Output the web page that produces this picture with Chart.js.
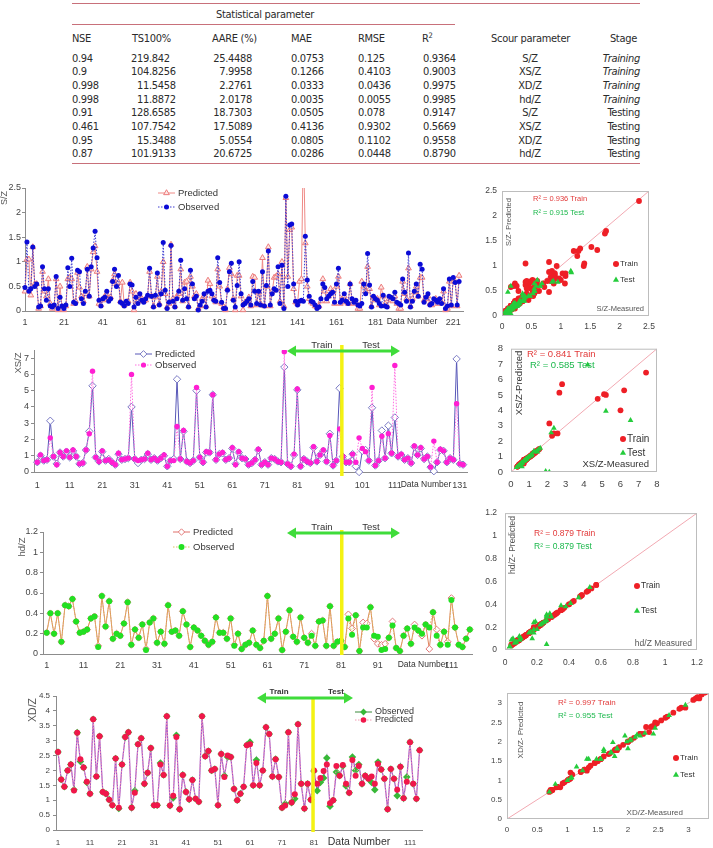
<!DOCTYPE html>
<html>
<head>
<meta charset="utf-8">
<title>Scour parameter predictions</title>
<script src="https://cdn.jsdelivr.net/npm/chart.js@4.4.1/dist/chart.umd.min.js"></script>
<style>
  body { margin: 0; background: #fff; }
  #page { position: relative; width: 713px; height: 848px; overflow: hidden; }
  #page canvas { position: absolute; }
  .cell { position: absolute; font-family: "Liberation Sans Narrow", "DejaVu Sans Condensed", sans-serif; font-size: 11px; letter-spacing: -0.3px; line-height: 13px; color: #2b2b2b; white-space: nowrap; }
  .cell sup { font-size: 7.5px; vertical-align: top; line-height: 8px; }
  .rule { position: absolute; height: 1px; background: #c8707a; }
</style>
</head>
<body>
<div id="page">
  <div id="table"></div>
  <canvas id="szLine" width="480" height="170" style="left:0;top:160px"></canvas>
  <canvas id="szScatter" width="233" height="160" style="left:480px;top:175px"></canvas>
  <canvas id="xsLine" width="480" height="160" style="left:0;top:335px"></canvas>
  <canvas id="xsScatter" width="233" height="160" style="left:480px;top:335px"></canvas>
  <canvas id="hdLine" width="480" height="172" style="left:0;top:500px"></canvas>
  <canvas id="hdScatter" width="233" height="172" style="left:480px;top:500px"></canvas>
  <canvas id="xdLine" width="480" height="176" style="left:0;top:672px"></canvas>
  <canvas id="xdScatter" width="233" height="176" style="left:480px;top:672px"></canvas>
</div>
<script>
// ---- table values ----
const tableNSE = ['0.94', '0.9', '0.998', '0.998', '0.91', '0.461', '0.95', '0.87'];
const tableTS = ['219.842', '104.8256', '11.5458', '11.8872', '128.6585', '107.7542', '15.3488', '101.9133'];
const tableAARE = ['25.4488', '7.9958', '2.2761', '2.0178', '18.7303', '17.5089', '5.0554', '20.6725'];
const tableMAE = ['0.0753', '0.1266', '0.0333', '0.0035', '0.0505', '0.4136', '0.0805', '0.0286'];
const tableRMSE = ['0.125', '0.4103', '0.0436', '0.0055', '0.078', '0.9302', '0.1102', '0.0448'];
const tableR2 = ['0.9364', '0.9003', '0.9975', '0.9985', '0.9147', '0.5669', '0.9558', '0.8790'];
const tableScour = ['S/Z', 'XS/Z', 'XD/Z', 'hd/Z', 'S/Z', 'XS/Z', 'XD/Z', 'hd/Z'];
const tableStage = ['Training', 'Training', 'Training', 'Training', 'Testing', 'Testing', 'Testing', 'Testing'];

// ---- S/Z series (data number 1..224) ----
const szObserved = [
  0.48, 1.40, 0.40, 0.45, 1.30, 0.50, 0.55, 0.08, 0.10, 0.90,
  0.45, 0.22, 0.45, 0.10, 0.08, 0.12, 0.70, 0.05, 0.28, 0.10,
  0.05, 0.12, 0.88, 0.50, 1.07, 0.18, 0.15, 0.83, 0.80, 0.25,
  0.15, 0.40, 0.85, 0.30, 0.90, 1.28, 1.62, 1.08, 0.22, 0.10,
  0.25, 0.28, 0.40, 0.20, 0.25, 0.60, 0.85, 0.50, 0.72, 0.18,
  0.15, 0.10, 0.20, 0.15, 0.55, 0.53, 0.08, 0.28, 0.15, 0.35,
  0.22, 0.18, 0.25, 0.32, 0.87, 0.30, 0.08, 0.32, 0.77, 0.12,
  0.35, 1.39, 0.42, 0.05, 0.18, 1.33, 0.20, 0.08, 0.25, 0.40,
  1.03, 0.22, 0.45, 0.25, 0.08, 0.83, 0.55, 0.25, 0.30, 0.02,
  0.12, 0.20, 0.35, 0.08, 0.40, 0.42, 0.35, 0.22, 0.20, 1.08,
  0.58, 0.18, 0.05, 0.05, 0.42, 0.80, 0.97, 0.22, 0.08, 0.52,
  1.00, 0.35, 0.12, 0.15, 0.20, 0.25, 0.12, 0.60, 0.40, 0.15,
  0.40, 0.12, 0.80, 0.10, 0.52, 1.22, 0.12, 0.35, 0.45, 0.42,
  0.90, 0.15, 0.93, 0.05, 2.33, 0.50, 1.75, 1.77, 0.55, 0.20,
  0.12, 0.20, 0.22, 0.20, 1.52, 0.63, 0.30, 0.20, 0.18, 0.12,
  0.05, 0.08, 0.25, 0.55, 0.48, 0.25, 0.30, 0.35, 0.38, 0.18,
  0.55, 0.87, 0.18, 0.22, 0.35, 0.20, 0.15, 0.55, 0.25, 0.18,
  0.22, 0.12, 0.10, 0.15, 0.55, 0.35, 1.17, 0.53, 0.08, 0.30,
  0.25, 0.22, 0.15, 0.10, 0.32, 0.10, 0.08, 0.30, 0.28, 0.25,
  0.38, 0.18, 0.15, 0.12, 0.65, 0.38, 0.20, 1.18, 0.08, 0.20,
  0.40, 0.55, 0.30, 0.95, 0.85, 0.18, 0.28, 0.35, 0.12, 0.15,
  0.25, 0.22, 0.18, 0.25, 0.15, 0.45, 0.05, 0.10, 0.65, 0.12,
  0.68, 0.58, 0.12, 0.60
];
const szPredicted = [
  0.40, 1.05, 1.05, 0.32, 1.30, 0.55, 0.55, 0.05, 0.10, 0.80,
  0.40, 0.30, 0.65, 0.15, 0.05, 0.10, 0.65, 0.02, 0.50, 0.08,
  0.02, 0.10, 0.65, 0.68, 0.65, 0.15, 0.20, 0.78, 0.48, 0.30,
  0.20, 0.35, 0.90, 0.30, 0.85, 1.20, 1.32, 0.80, 0.15, 0.12,
  0.22, 0.30, 0.35, 0.25, 0.28, 0.62, 0.75, 0.55, 0.58, 0.20,
  0.58, 0.12, 0.18, 0.20, 0.58, 0.40, 0.02, 0.35, 0.20, 0.30,
  0.25, 0.20, 0.22, 0.30, 0.80, 0.30, 0.10, 0.28, 0.70, 0.15,
  0.40, 1.00, 0.35, 0.08, 0.15, 1.35, 0.25, 0.10, 0.30, 0.35,
  0.85, 0.20, 0.58, 0.60, 0.10, 0.70, 0.50, 0.30, 0.35, 0.05,
  0.10, 0.25, 0.30, 0.10, 0.62, 0.55, 0.30, 0.25, 0.18, 0.85,
  0.50, 0.15, 0.08, 0.02, 0.45, 0.88, 0.75, 0.25, 0.02, 0.72,
  0.72, 0.30, 0.02, 0.18, 0.18, 0.28, 0.10, 0.70, 0.68, 0.12,
  0.38, 0.15, 1.08, 0.10, 0.50, 1.30, 0.10, 0.40, 0.68, 0.70,
  0.75, 0.20, 1.00, 0.10, 2.30, 0.70, 1.65, 1.70, 0.45, 0.18,
  0.15, 0.60, 0.65, 3.50, 1.38, 0.50, 0.25, 0.18, 0.15, 0.10,
  0.08, 0.10, 0.20, 0.65, 0.40, 0.20, 0.30, 0.45, 0.40, 0.15,
  0.50, 0.70, 0.15, 0.25, 0.30, 0.18, 0.15, 0.55, 0.20, 0.15,
  0.18, 0.05, 0.05, 0.60, 0.50, 0.40, 0.90, 0.45, 0.10, 0.28,
  0.22, 0.25, 0.12, 0.48, 0.30, 0.15, 0.10, 0.25, 0.22, 0.20,
  0.30, 0.15, 0.05, 0.05, 0.60, 0.35, 0.25, 0.87, 0.10, 0.25,
  0.38, 0.50, 0.30, 0.68, 0.68, 0.22, 0.25, 0.30, 0.15, 0.12,
  0.20, 0.25, 0.15, 0.22, 0.18, 0.40, 0.02, 0.05, 0.60, 0.10,
  0.65, 0.60, 0.10, 0.72
];
const szTrainCount = 150;

// ---- XS/Z series (data number 1..132) ----
const xsObserved = [
  0.6, 1.05, 0.7, 0.75, 2.1, 0.95, 0.45, 1.2, 0.95, 1.3,
  0.9, 1.35, 0.95, 0.5, 0.55, 1.35, 2.35, 6.2, 0.9, 0.65,
  1.3, 0.7, 0.75, 0.6, 0.45, 1.15, 0.75, 0.8, 0.85, 6.0,
  0.8, 0.7, 0.75, 0.8, 1.15, 0.75, 0.85, 0.7, 0.85, 1.05,
  0.35, 0.7, 0.7, 2.8, 0.8, 2.55, 0.65, 0.55, 0.7, 5.2,
  0.9, 0.6, 1.25, 1.2, 4.75, 0.75, 1.1, 1.2, 0.75, 0.85,
  1.5, 0.45, 1.25, 0.85, 0.8, 0.45, 0.55, 0.75, 1.4, 0.45,
  0.6, 0.45, 0.85, 0.8, 0.65, 0.6, 7.4, 0.5, 0.35, 1.1,
  5.1, 0.35, 0.8, 0.65, 0.55, 1.55, 0.65, 1.05, 1.35, 0.65,
  2.25, 0.4, 0.7, 2.65, 0.95, 0.6, 0.6, 1.1, 0.6, 2.1,
  1.45, 1.25, 0.7, 5.2, 0.4, 0.7, 2.2, 0.85, 2.35, 1.15,
  6.55, 0.95, 1.1, 0.75, 0.85, 0.55, 1.6, 1.05, 1.5, 0.8,
  0.95, 0.3, 1.9, 0.6, 1.4, 1.3, 0.6, 0.85, 0.75, 4.2,
  0.5, 0.45
];
const xsPredicted = [
  0.6, 1.0, 0.7, 0.75, 3.15, 0.95, 0.5, 1.2, 0.95, 1.25,
  0.9, 1.3, 0.95, 0.5, 0.55, 1.35, 2.5, 5.3, 0.9, 0.65,
  1.25, 0.7, 0.8, 0.6, 0.45, 1.1, 0.75, 0.8, 0.85, 4.0,
  0.8, 0.55, 0.75, 0.8, 1.1, 0.75, 0.85, 0.7, 0.85, 1.0,
  0.35, 0.7, 0.8, 5.7, 0.8, 2.5, 0.65, 0.55, 0.7, 5.0,
  0.9, 0.6, 1.2, 1.2, 4.75, 0.75, 1.1, 1.15, 0.75, 0.85,
  1.45, 0.5, 1.2, 0.85, 0.8, 0.45, 0.55, 0.75, 1.35, 0.45,
  0.6, 0.45, 0.85, 0.8, 0.65, 0.6, 6.45, 0.5, 0.35, 1.05,
  5.05, 0.35, 0.8, 0.65, 0.55, 1.5, 0.65, 1.05, 1.3, 0.65,
  2.35, 0.4, 0.7, 5.15, 0.95, 0.6, 0.6, 1.1, 0.35, 0.0,
  1.3, 1.35, 0.7, 3.95, 0.4, 0.7, 2.55, 0.85, 2.85, 1.15,
  3.35, 0.95, 1.05, 0.75, 0.85, 0.55, 1.55, 1.05, 1.45, 0.8,
  0.95, 0.3, 0.05, 0.6, 1.35, 1.3, 0.6, 0.85, 0.75, 6.95,
  0.5, 0.45
];
const xsTrainCount = 94;

// ---- hd/Z series (data number 1..116) ----
const hdObserved = [
  0.21, 0.40, 0.20, 0.40, 0.12, 0.48, 0.47, 0.54, 0.32, 0.21,
  0.22, 0.24, 0.35, 0.37, 0.07, 0.57, 0.27, 0.52, 0.15, 0.20,
  0.18, 0.30, 0.51, 0.09, 0.24, 0.16, 0.29, 0.04, 0.31, 0.35,
  0.11, 0.22, 0.10, 0.48, 0.22, 0.23, 0.18, 0.42, 0.29, 0.07,
  0.26, 0.23, 0.18, 0.13, 0.09, 0.12, 0.36, 0.21, 0.21, 0.15,
  0.35, 0.08, 0.20, 0.05, 0.09, 0.11, 0.23, 0.09, 0.06, 0.13,
  0.57, 0.15, 0.20, 0.35, 0.04, 0.22, 0.43, 0.17, 0.12, 0.36,
  0.16, 0.11, 0.18, 0.08, 0.32, 0.33, 0.08, 0.47, 0.08, 0.12,
  0.13, 0.07, 0.35, 0.19, 0.38, 0.03, 0.26, 0.26, 0.46, 0.18,
  0.17, 0.04, 0.05, 0.16, 0.28, 0.06, 0.03, 0.18, 0.25, 0.10,
  0.26, 0.23, 0.20, 0.29, 0.26, 0.41, 0.18, 0.09, 0.22, 0.09,
  0.53, 0.26, 0.09, 0.07, 0.15, 0.24
];
const hdPredicted = [
  0.21, 0.40, 0.20, 0.40, 0.12, 0.48, 0.47, 0.54, 0.32, 0.21,
  0.22, 0.24, 0.35, 0.37, 0.08, 0.57, 0.27, 0.52, 0.15, 0.20,
  0.18, 0.30, 0.51, 0.09, 0.24, 0.16, 0.29, 0.05, 0.31, 0.35,
  0.11, 0.22, 0.10, 0.48, 0.22, 0.23, 0.18, 0.42, 0.29, 0.07,
  0.26, 0.23, 0.18, 0.13, 0.09, 0.12, 0.36, 0.21, 0.21, 0.15,
  0.35, 0.09, 0.20, 0.05, 0.09, 0.11, 0.23, 0.09, 0.06, 0.13,
  0.57, 0.15, 0.20, 0.35, 0.04, 0.22, 0.43, 0.17, 0.12, 0.36,
  0.16, 0.11, 0.20, 0.08, 0.32, 0.33, 0.08, 0.47, 0.08, 0.12,
  0.13, 0.07, 0.39, 0.25, 0.38, 0.03, 0.31, 0.30, 0.46, 0.15,
  0.10, 0.09, 0.10, 0.16, 0.32, 0.06, 0.03, 0.18, 0.25, 0.10,
  0.29, 0.23, 0.18, 0.29, 0.05, 0.41, 0.24, 0.09, 0.22, 0.12,
  0.55, 0.26, 0.09, 0.07, 0.15, 0.24
];
const hdTrainCount = 81;

// ---- XD/Z series (data number 1..114) ----
const xdObserved = [
  2.62, 1.70, 1.45, 2.00, 2.20, 1.35, 3.27, 2.30, 2.10, 1.60,
  1.22, 3.72, 1.80, 3.15, 1.28, 1.22, 1.02, 0.83, 2.40, 0.72,
  2.20, 3.12, 3.28, 0.75, 1.32, 2.88, 3.08, 1.55, 1.92, 2.75,
  0.83, 0.83, 2.25, 1.85, 3.82, 0.82, 1.08, 3.18, 0.70, 1.85,
  1.28, 1.03, 1.68, 1.05, 0.95, 3.82, 2.48, 2.65, 2.00, 2.05,
  0.83, 2.55, 1.82, 2.45, 2.45, 1.38, 1.00, 1.22, 1.45, 2.85,
  2.95, 1.50, 2.35, 1.50, 2.00, 3.45, 3.22, 1.80, 2.38, 1.78,
  0.75, 0.88, 3.28, 0.92, 1.05, 3.55, 1.55, 0.72, 1.55, 1.02,
  1.98, 1.32, 1.60, 1.75, 2.42, 0.80, 1.00, 1.95, 1.82, 2.15,
  1.48, 1.25, 2.45, 2.00, 2.20, 1.55, 1.82, 1.72, 1.60, 1.35,
  2.28, 2.03, 1.72, 0.70, 2.05, 1.72, 1.15, 2.12, 1.07, 1.78,
  2.95, 1.55, 1.05, 2.68
];
const xdPredicted = [
  2.62, 1.70, 1.45, 2.00, 2.20, 1.33, 3.27, 2.38, 2.10, 1.62,
  1.22, 3.72, 1.80, 3.15, 1.28, 1.22, 1.02, 0.83, 2.40, 0.75,
  2.20, 3.12, 3.28, 0.75, 1.25, 2.88, 3.08, 1.55, 1.92, 2.75,
  0.83, 0.83, 2.20, 1.85, 3.82, 0.82, 1.15, 3.12, 0.70, 1.85,
  1.28, 1.03, 1.68, 1.05, 0.95, 3.82, 2.48, 2.65, 2.00, 2.05,
  0.83, 2.55, 1.78, 2.50, 2.45, 1.38, 1.00, 1.22, 1.45, 2.85,
  2.88, 1.50, 2.25, 1.50, 2.00, 3.45, 3.22, 1.80, 2.38, 1.78,
  0.75, 0.82, 3.28, 0.92, 1.20, 3.55, 1.55, 0.72, 1.55, 1.02,
  2.00, 1.55, 1.75, 1.98, 2.20, 0.90, 1.00, 2.15, 1.82, 2.18,
  1.55, 1.25, 2.35, 1.82, 2.15, 1.55, 1.82, 1.72, 1.80, 1.55,
  2.22, 2.03, 1.72, 0.70, 2.05, 1.72, 1.35, 2.12, 1.07, 1.62,
  2.95, 1.55, 1.05, 2.68
];
const xdTrainCount = 80;

// ---- tick labels ----
const szLineXTicks = [1, 21, 41, 61, 81, 101, 121, 141, 161, 181, 201, 221];
const xsLineXTicks = [1, 11, 21, 31, 41, 51, 61, 71, 81, 91, 101, 111, 121, 131];
const hdLineXTicks = [1, 11, 21, 31, 41, 51, 61, 71, 81, 91, 101, 111];
const xdLineXTicks = [1, 11, 21, 31, 41, 51, 61, 71, 81, 91, 101, 111];
const szYTicks = [0, 0.5, 1, 1.5, 2, 2.5];
const xsYTicks = [0, 1, 2, 3, 4, 5, 6, 7];
const xsScatterTicks = [0, 1, 2, 3, 4, 5, 6, 7, 8];
const hdYTicks = [0, 0.2, 0.4, 0.6, 0.8, 1, 1.2];
const xdYTicks = [0, 0.5, 1, 1.5, 2, 2.5, 3, 3.5, 4, 4.5];
const xdScatterTicks = [0, 0.5, 1, 1.5, 2, 2.5, 3];

// ---------------------------------------------------------------
const FONT = '"Liberation Sans", Arial, sans-serif';
Chart.defaults.font.family = FONT;
Chart.defaults.color = '#444';

// table
const table = document.getElementById('table');
function cell(html, x, y, align, italic) {
  const el = document.createElement('div');
  el.className = 'cell';
  el.innerHTML = html;
  el.style.top = (y - 6.5) + 'px';
  if (align === 'right') el.style.right = (713 - x) + 'px';
  else if (align === 'center') { el.style.left = x + 'px'; el.style.transform = 'translateX(-50%)'; }
  else el.style.left = x + 'px';
  if (italic) el.style.fontStyle = 'italic';
  table.appendChild(el);
}
function rule(x, y, w) {
  const el = document.createElement('div');
  el.className = 'rule';
  el.style.left = x + 'px'; el.style.top = y + 'px'; el.style.width = w + 'px';
  table.appendChild(el);
}
rule(72, 3, 568);
rule(72, 24, 383);
rule(72, 163, 568);
cell('Statistical parameter', 265, 14, 'center');
[['NSE', 72], ['TS100%', 132], ['AARE (%)', 212], ['MAE', 291], ['RMSE', 358], ['R<sup>2</sup>', 422], ['Scour parameter', 491]]
  .forEach(([t, x]) => cell(t, x, 38));
cell('Stage', 637, 38, 'right');
tableNSE.forEach((v, k) => {
  const y = 58.3 + k * 13.63;
  cell(v, 72, y);
  const [ip, fp] = tableTS[k].split('.');
  cell(ip, 149, y, 'right');
  cell('.' + fp, 149, y);
  cell(tableAARE[k], 252, y, 'right');
  cell(tableMAE[k], 291, y);
  cell(tableRMSE[k], 358, y);
  cell(tableR2[k], 423, y);
  cell(tableScour[k], 530, y, 'center');
  cell(tableStage[k], 640, y, 'right', tableStage[k] === 'Training');
});

// helpers
const points = arr => arr.map((v, i) => ({ x: i + 1, y: v }));
const pairs = (measured, predicted, from, to) =>
  measured.slice(from, to).map((v, i) => ({ x: v, y: predicted[from + i] }));
const CLIP = { left: 6, right: 6, top: 0, bottom: 6 };

function drawMarker(ctx, style, x, y, r, fill, stroke) {
  ctx.beginPath();
  if (style === 'circle') ctx.arc(x, y, r, 0, Math.PI * 2);
  else if (style === 'triangle') {
    ctx.moveTo(x, y - r); ctx.lineTo(x + r * 0.87, y + r * 0.5); ctx.lineTo(x - r * 0.87, y + r * 0.5); ctx.closePath();
  } else {
    ctx.moveTo(x, y - r); ctx.lineTo(x + r, y); ctx.lineTo(x, y + r); ctx.lineTo(x - r, y); ctx.closePath();
  }
  if (fill) { ctx.fillStyle = fill; ctx.fill(); }
  if (stroke) { ctx.strokeStyle = stroke; ctx.lineWidth = 1; ctx.stroke(); }
}

function drawText(ctx, t) {
  ctx.save();
  ctx.translate(t.x, t.y);
  if (t.rot) ctx.rotate(t.rot * Math.PI / 180);
  ctx.font = (t.bold ? 'bold ' : '') + t.size + 'px ' + FONT;
  ctx.fillStyle = t.color || '#333';
  ctx.textAlign = t.align || 'left';
  ctx.textBaseline = 'middle';
  ctx.fillText(t.text, 0, 0);
  ctx.restore();
}

// extra drawing: split line, train/test arrow, Excel style legends, labels
function decorations(d) {
  return {
    id: 'decorations',
    afterDatasetsDraw(chart) {
      const ctx = chart.ctx, a = chart.chartArea;
      if (d.box) {
        ctx.save();
        ctx.strokeStyle = '#bdbdbd'; ctx.lineWidth = 1;
        ctx.strokeRect(a.left + 0.5, a.top + 0.5, a.right - a.left - 1, a.bottom - a.top - 1);
        ctx.restore();
      }
      if (d.split) {
        const x = chart.scales.x.getPixelForValue(d.split.at);
        ctx.save();
        ctx.strokeStyle = '#f4f212'; ctx.lineWidth = 3.5;
        ctx.beginPath(); ctx.moveTo(x, d.split.top); ctx.lineTo(x, d.split.bottom); ctx.stroke();
        ctx.restore();
      }
    },
    afterDraw(chart) {
      const ctx = chart.ctx;
      if (d.arrow) {
        const { x1, x2, y } = d.arrow;
        ctx.save();
        ctx.strokeStyle = ctx.fillStyle = '#3fdc3a'; ctx.lineWidth = 3;
        ctx.beginPath(); ctx.moveTo(x1 + 5, y); ctx.lineTo(x2 - 5, y); ctx.stroke();
        ctx.beginPath(); ctx.moveTo(x1, y); ctx.lineTo(x1 + 9, y - 5.5); ctx.lineTo(x1 + 9, y + 5.5); ctx.closePath(); ctx.fill();
        ctx.beginPath(); ctx.moveTo(x2, y); ctx.lineTo(x2 - 9, y - 5.5); ctx.lineTo(x2 - 9, y + 5.5); ctx.closePath(); ctx.fill();
        ctx.restore();
      }
      (d.legend || []).forEach(it => {
        ctx.save();
        if (it.len) {
          ctx.strokeStyle = it.line; ctx.lineWidth = 1;
          ctx.setLineDash(it.dash || []);
          ctx.beginPath(); ctx.moveTo(it.x, it.y); ctx.lineTo(it.x + it.len, it.y); ctx.stroke();
          ctx.setLineDash([]);
        }
        drawMarker(ctx, it.marker, it.x + it.len / 2, it.y, it.r, it.fill, it.stroke);
        ctx.restore();
        drawText(ctx, { text: it.text, x: it.x + it.len + (it.len ? 3 : 4), y: it.y, size: it.size || 9.5, color: '#333' });
      });
      (d.texts || []).forEach(t => drawText(ctx, t));
    }
  };
}

function lineChart(id, c) {
  const canvas = document.getElementById(id);
  const W = canvas.width, H = canvas.height, a = c.area;
  return new Chart(canvas, {
    type: 'line',
    data: { datasets: c.datasets },
    options: {
      responsive: false, animation: false, devicePixelRatio: 1, events: [],
      layout: { padding: { top: a.t, right: W - a.r, bottom: 0, left: 0 } },
      plugins: { legend: { display: false }, tooltip: { enabled: false } },
      elements: { line: { tension: 0 } },
      scales: {
        x: {
          type: 'linear', min: c.xMin, max: c.xMax,
          afterFit: s => { s.height = H - a.b; },
          afterBuildTicks: s => { s.ticks = c.xTicks.map(v => ({ value: v })); },
          ticks: { autoSkip: false, maxRotation: 0, padding: c.xPad, color: '#444', font: { size: c.tickSize },
                   callback: v => (c.xHide.includes(v) ? '' : String(v)) },
          grid: { display: false, drawTicks: false },
          border: { color: '#8c8c8c' }
        },
        y: {
          min: 0, max: c.yMax,
          afterFit: s => { s.width = a.l; },
          afterBuildTicks: s => { s.ticks = c.yTicks.map(v => ({ value: v })); },
          ticks: { padding: c.yPad, color: '#444', font: { size: c.tickSize }, callback: v => String(v) },
          grid: { drawOnChartArea: false, tickLength: 3, color: '#8c8c8c' },
          border: { color: '#8c8c8c' }
        }
      }
    },
    plugins: [decorations(c.deco)]
  });
}

function scatterChart(id, c) {
  const canvas = document.getElementById(id);
  const W = canvas.width, H = canvas.height, a = c.area;
  const diag = Math.min(c.xMax, c.yMax);
  return new Chart(canvas, {
    type: 'scatter',
    data: {
      datasets: [
        { label: 'Test', data: c.test, pointStyle: 'triangle', pointRadius: 3.3, backgroundColor: '#25cc3c', borderColor: '#25cc3c', borderWidth: 0 },
        { label: 'Train', data: c.train, pointStyle: 'circle', pointRadius: 2.9, backgroundColor: '#ee1f26', borderColor: '#ee1f26', borderWidth: 0 },
        { label: '1:1', data: [{ x: 0, y: 0 }, { x: diag, y: diag }], showLine: true, borderColor: '#f2a9b2', borderWidth: 1, pointRadius: 0 }
      ]
    },
    options: {
      responsive: false, animation: false, devicePixelRatio: 1, events: [],
      layout: { padding: { top: a.t, right: W - a.r, bottom: 0, left: 0 } },
      plugins: { legend: { display: false }, tooltip: { enabled: false } },
      scales: {
        x: {
          type: 'linear', min: 0, max: c.xMax,
          afterFit: s => { s.height = H - a.b; },
          afterBuildTicks: s => { s.ticks = c.ticks.map(v => ({ value: v })); },
          ticks: { padding: c.xPad, color: '#444', font: { size: c.tickSize }, maxRotation: 0, callback: v => String(v) },
          grid: { display: false, drawTicks: false }, border: { display: false }
        },
        y: {
          min: 0, max: c.yMax,
          afterFit: s => { s.width = a.l; },
          afterBuildTicks: s => { s.ticks = c.ticks.map(v => ({ value: v })); },
          ticks: { padding: c.yPad, color: '#444', font: { size: c.tickSize }, callback: v => String(v) },
          grid: { display: false, drawTicks: false }, border: { display: false }
        }
      }
    },
    plugins: [decorations({ box: true, texts: c.texts, legend: c.legend })]
  });
}

const RED = '#e23a3a', GREEN = '#1cb84c', GREY = '#555';
function scatterLegend(x, yTrain, yTest, size) {
  return [
    { x, y: yTrain, len: 0, marker: 'circle', r: 3, fill: '#ee1f26', text: 'Train', size },
    { x, y: yTest, len: 0, marker: 'triangle', r: 3.5, fill: '#25cc3c', text: 'Test', size }
  ];
}

// ---- S/Z ----
lineChart('szLine', {
  area: { l: 25, t: 28, r: 463, b: 151 }, xMin: 1, xMax: 226, xTicks: szLineXTicks, xHide: [201],
  yMax: 2.5, yTicks: szYTicks, tickSize: 9, xPad: 6, yPad: 1,
  datasets: [
    { label: 'Observed', data: points(szObserved), borderColor: '#3a3ad0', borderWidth: 1, borderDash: [1.5, 1.5],
      pointStyle: 'circle', pointRadius: 2.5, pointBackgroundColor: '#0b0bd6', pointBorderColor: '#0b0bd6', pointBorderWidth: 0, clip: CLIP },
    { label: 'Predicted', data: points(szPredicted), borderColor: '#ef8a86', borderWidth: 1,
      pointStyle: 'triangle', pointRadius: 3.3, pointBackgroundColor: '#fde6e4', pointBorderColor: '#ec7c7c', pointBorderWidth: 1, clip: CLIP }
  ],
  deco: {
    legend: [
      { x: 158, y: 33, len: 17, line: '#ef8a86', marker: 'triangle', r: 3.3, fill: '#fde6e4', stroke: '#ec7c7c', text: 'Predicted' },
      { x: 158, y: 47, len: 17, line: '#3a3ad0', dash: [1.5, 1.5], marker: 'circle', r: 2.5, fill: '#0b0bd6', text: 'Observed' }
    ],
    texts: [
      { text: 'S/Z', x: 5, y: 38, rot: -90, size: 9, align: 'center', color: GREY },
      { text: 'Data Number', x: 412, y: 162, size: 8.5, align: 'center' }
    ]
  }
});
scatterChart('szScatter', {
  area: { l: 22, t: 16, r: 169, b: 141 }, xMax: 2.5, yMax: 2.5, ticks: szYTicks, tickSize: 8.5, xPad: 6, yPad: 5,
  train: pairs(szObserved, szPredicted, 0, szTrainCount),
  test: pairs(szObserved, szPredicted, szTrainCount, szObserved.length),
  legend: scatterLegend(136, 89, 105, 8),
  texts: [
    { text: 'R² = 0.936 Train', x: 53, y: 24, size: 7.5, color: RED },
    { text: 'R² = 0.915 Test', x: 53, y: 38, size: 7.5, color: GREEN },
    { text: 'S/Z- Predicted', x: 29, y: 47, rot: -90, size: 7.5, align: 'center', color: GREY },
    { text: 'S/Z-Measured', x: 164, y: 134, size: 7.5, align: 'right', color: GREY }
  ]
});

// ---- XS/Z ----
lineChart('xsLine', {
  area: { l: 34, t: 15, r: 467, b: 137 }, xMin: 0, xMax: 133.2, xTicks: xsLineXTicks, xHide: [121],
  yMax: 7.5, yTicks: xsYTicks, tickSize: 9, xPad: 8, yPad: 2,
  datasets: [
    { label: 'Observed', data: points(xsObserved), borderColor: '#ff70e0', borderWidth: 1, borderDash: [1.5, 1.5],
      pointStyle: 'circle', pointRadius: 2.7, pointBackgroundColor: '#ff1ed2', pointBorderColor: '#ff1ed2', pointBorderWidth: 0, clip: CLIP },
    { label: 'Predicted', data: points(xsPredicted), borderColor: '#5858b8', borderWidth: 1,
      pointStyle: 'rectRot', pointRadius: 3.7, pointBackgroundColor: '#ffffff', pointBorderColor: '#7a7ac4', pointBorderWidth: 1, clip: CLIP }
  ],
  deco: {
    split: { at: 94.7, top: 10, bottom: 141 },
    arrow: { x1: 287, x2: 400, y: 16 },
    legend: [
      { x: 135, y: 19, len: 17, line: '#5858b8', marker: 'diamond', r: 3.4, fill: '#ffffff', stroke: '#7a7ac4', text: 'Predicted' },
      { x: 135, y: 30, len: 17, line: '#ff70e0', dash: [1.5, 1.5], marker: 'circle', r: 2.6, fill: '#ff1ed2', text: 'Observed' }
    ],
    texts: [
      { text: 'XS/Z', x: 18, y: 28, rot: -90, size: 9.5, align: 'center', color: GREY },
      { text: 'Train', x: 322, y: 10, size: 9.5, align: 'center' },
      { text: 'Test', x: 371, y: 10, size: 9.5, align: 'center' },
      { text: 'Data Number', x: 426, y: 150, size: 8.5, align: 'center' }
    ]
  }
});
scatterChart('xsScatter', {
  area: { l: 31, t: 12, r: 177, b: 137 }, xMax: 8, yMax: 8, ticks: xsScatterTicks, tickSize: 9.5, xPad: 7, yPad: 8,
  train: pairs(xsObserved, xsPredicted, 0, xsTrainCount),
  test: pairs(xsObserved, xsPredicted, xsTrainCount, xsObserved.length),
  legend: scatterLegend(143, 104, 118, 10),
  texts: [
    { text: 'R² = 0.841 Train', x: 47, y: 19, size: 9.5, color: RED },
    { text: 'R² = 0.585 Test', x: 50, y: 30, size: 9.5, color: GREEN },
    { text: 'XS/Z-Predicted', x: 39, y: 48, rot: -90, size: 9.5, align: 'center', color: '#333' },
    { text: 'XS/Z-Measured', x: 169, y: 129, size: 9.5, align: 'right', color: '#333' }
  ]
});

// ---- hd/Z ----
lineChart('hdLine', {
  area: { l: 43, t: 32, r: 472, b: 154 }, xMin: 0, xMax: 116.6, xTicks: hdLineXTicks, xHide: [101],
  yMax: 1.2, yTicks: hdYTicks, tickSize: 9, xPad: 6, yPad: 2,
  datasets: [
    { label: 'Observed', data: points(hdObserved), borderColor: '#d9b860', borderWidth: 1, borderDash: [1.5, 1.5],
      pointStyle: 'circle', pointRadius: 3, pointBackgroundColor: '#22e022', pointBorderColor: '#22e022', pointBorderWidth: 0, clip: CLIP },
    { label: 'Predicted', data: points(hdPredicted), borderColor: '#e0855e', borderWidth: 1,
      pointStyle: 'rectRot', pointRadius: 3.4, pointBackgroundColor: '#ffffff', pointBorderColor: '#e27a7a', pointBorderWidth: 1, clip: CLIP }
  ],
  deco: {
    split: { at: 81.2, top: 30, bottom: 155 },
    arrow: { x1: 287, x2: 400, y: 33 },
    legend: [
      { x: 173, y: 32, len: 17, line: '#e0706a', marker: 'diamond', r: 3.2, fill: '#ffffff', stroke: '#e27a7a', text: 'Predicted' },
      { x: 173, y: 47, len: 17, line: '#d9c060', dash: [1.5, 1.5], marker: 'circle', r: 3, fill: '#22e022', text: 'Observed' }
    ],
    texts: [
      { text: 'hd/Z', x: 22, y: 47, rot: -90, size: 9.5, align: 'center', color: GREY },
      { text: 'Train', x: 322, y: 27, size: 9.5, align: 'center' },
      { text: 'Test', x: 371, y: 27, size: 9.5, align: 'center' },
      { text: 'Data Number', x: 423, y: 165, size: 8.5, align: 'center' }
    ]
  }
});
scatterChart('hdScatter', {
  area: { l: 25, t: 13, r: 217, b: 150 }, xMax: 1.2, yMax: 1.2, ticks: hdYTicks, tickSize: 8.5, xPad: 8, yPad: 8,
  train: pairs(hdObserved, hdPredicted, 0, hdTrainCount),
  test: pairs(hdObserved, hdPredicted, hdTrainCount, hdObserved.length),
  legend: scatterLegend(157, 86, 111, 8.5),
  texts: [
    { text: 'R² = 0.879 Train', x: 54, y: 34, size: 8.5, color: RED },
    { text: 'R² = 0.879 Test', x: 54, y: 47, size: 8.5, color: GREEN },
    { text: 'hd/Z- Predicted', x: 33, y: 45, rot: -90, size: 8.5, align: 'center', color: GREY },
    { text: 'hd/Z Measured', x: 212, y: 144, size: 8.5, align: 'right', color: GREY }
  ]
});

// ---- XD/Z ----
lineChart('xdLine', {
  area: { l: 56, t: 24, r: 422, b: 158 }, xMin: 0.375, xMax: 114.75, xTicks: xdLineXTicks, xHide: [91, 101],
  yMax: 4.5, yTicks: xdYTicks, tickSize: 8, xPad: 8, yPad: 3,
  datasets: [
    { label: 'Predicted', data: points(xdPredicted), borderColor: '#f29ab2', borderWidth: 1, borderDash: [1.5, 1.5],
      pointStyle: 'circle', pointRadius: 3, pointBackgroundColor: '#f0174a', pointBorderColor: '#f0174a', pointBorderWidth: 0, clip: CLIP },
    { label: 'Observed', data: points(xdObserved), borderColor: '#a050c8', borderWidth: 1.2,
      pointStyle: 'rectRot', pointRadius: 3.8, pointBackgroundColor: '#38b838', pointBorderColor: '#38b838', pointBorderWidth: 0, clip: CLIP }
  ],
  deco: {
    split: { at: 80.7, top: 26, bottom: 160 },
    arrow: { x1: 257, x2: 353, y: 26 },
    legend: [
      { x: 355, y: 40, len: 17, line: '#3a8a3a', marker: 'diamond', r: 3.4, fill: '#38b838', text: 'Observed', size: 9 },
      { x: 355, y: 48, len: 17, line: '#f29ab2', dash: [1.5, 1.5], marker: 'circle', r: 2.8, fill: '#f0174a', text: 'Predicted', size: 9 }
    ],
    texts: [
      { text: 'XD/Z', x: 33, y: 38, rot: -90, size: 10.5, align: 'center', color: GREY },
      { text: 'Train', x: 279, y: 20, size: 8, bold: true, align: 'center' },
      { text: 'Test', x: 336, y: 20, size: 8, bold: true, align: 'center' },
      { text: 'Data Number', x: 359, y: 170, size: 10.5, align: 'center' }
    ]
  }
});
scatterChart('xdScatter', {
  area: { l: 27, t: 21, r: 232, b: 147 }, xMax: 3.34, yMax: 3.26, ticks: xdScatterTicks, tickSize: 8, xPad: 6, yPad: 5,
  train: pairs(xdObserved, xdPredicted, 0, xdTrainCount),
  test: pairs(xdObserved, xdPredicted, xdTrainCount, xdObserved.length),
  legend: scatterLegend(196, 86, 103, 8),
  texts: [
    { text: 'R² = 0.997 Train', x: 78, y: 31, size: 8, color: RED },
    { text: 'R² = 0.955 Test', x: 78, y: 44, size: 8, color: GREEN },
    { text: 'XD/Z- Predicted', x: 41, y: 58, rot: -90, size: 8, align: 'center', color: GREY },
    { text: 'XD/Z-Measured', x: 203, y: 141, size: 8, align: 'right', color: GREY }
  ]
});
</script>
</body>
</html>
